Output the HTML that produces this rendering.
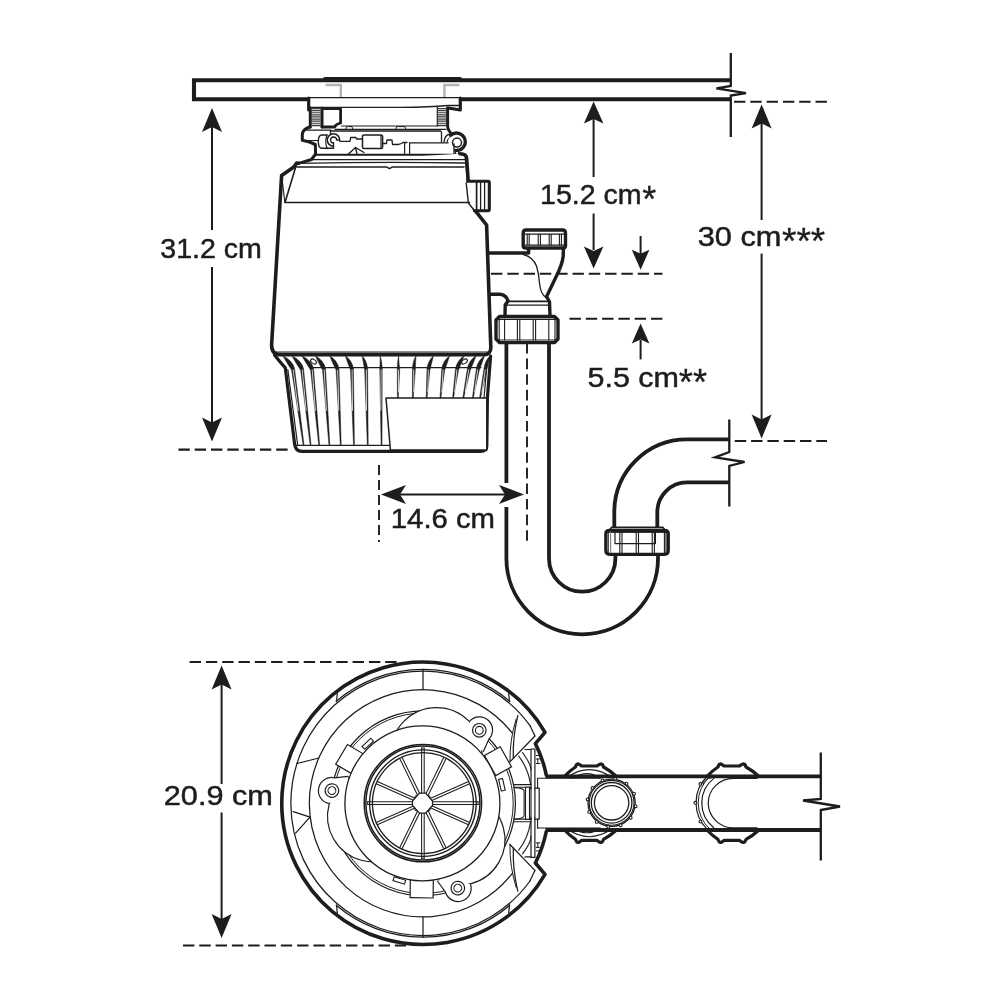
<!DOCTYPE html>
<html><head><meta charset="utf-8"><title>Disposer dimensions</title>
<style>
html,body{margin:0;padding:0;background:#fff;overflow:hidden;}
svg{display:block}
text{font-family:"Liberation Sans",sans-serif;fill:#1d1d1b}
</style></head>
<body>
<svg width="1000" height="1000" viewBox="0 0 1000 1000">
<defs><filter id="nf" x="-5%" y="-20%" width="110%" height="140%" color-interpolation-filters="sRGB"><feColorMatrix type="saturate" values="0"/></filter></defs>
<rect width="1000" height="1000" fill="#fff"/>
<!-- bottom view -->
<path d="M545.5,776.4 L820.8,776.4 M545.5,830 L820.8,830" fill="none" stroke="#1d1d1b" stroke-width="3.80" stroke-linejoin="round" stroke-linecap="butt"/>
<path d="M537.6,778.2 L600,778.2 M537.6,828 L600,828" fill="none" stroke="#1d1d1b" stroke-width="1.10" stroke-linejoin="round" stroke-linecap="round" />
<path d="M820.8,752.4 L820.8,799 L803,800.5 L840,806.5 L820.8,810 L820.8,860.5" fill="none" stroke="#1d1d1b" stroke-width="2.30" stroke-linejoin="miter" stroke-linecap="butt"/>
<path d="M564.5,776.4 Q570.0,770.5 575.5,767.0 Q576.5,763.6 578.5,764.0 Q580.0,764.6 581.5,766.0 L597.0,766.0 Q598.5,764.6 600.5,764.0 Q602.5,763.6 603.5,767.0 Q610.0,770.5 616.5,776.4" fill="none" stroke="#1d1d1b" stroke-width="3.20" stroke-linejoin="round" stroke-linecap="round" />
<path d="M564.5,830.0 Q570.0,835.9 575.5,839.4 Q576.5,842.8 578.5,842.4 Q580.0,841.8 581.5,840.4 L597.0,840.4 Q598.5,841.8 600.5,842.4 Q602.5,842.8 603.5,839.4 Q610.0,835.9 616.5,830.0" fill="none" stroke="#1d1d1b" stroke-width="3.20" stroke-linejoin="round" stroke-linecap="round" />
<path d="M568,776.8 Q589,762.5 611,776.8" fill="none" stroke="#1d1d1b" stroke-width="1.20" stroke-linejoin="round" stroke-linecap="round" />
<path d="M572,778.2 Q588,769.0 600,778.2" fill="none" stroke="#1d1d1b" stroke-width="1.10" stroke-linejoin="round" stroke-linecap="round" />
<path d="M568,829.6 Q589,843.9 611,829.6" fill="none" stroke="#1d1d1b" stroke-width="1.20" stroke-linejoin="round" stroke-linecap="round" />
<path d="M572,828.2 Q588,837.4 600,828.2" fill="none" stroke="#1d1d1b" stroke-width="1.10" stroke-linejoin="round" stroke-linecap="round" />
<circle cx="611.6" cy="802.8" r="23.6" fill="#fff" stroke="#1d1d1b" stroke-width="1.30"/>
<circle cx="635.6" cy="806.2" r="1.4" fill="#fff" stroke="#1d1d1b" stroke-width="1.1"/>
<circle cx="630.7" cy="817.7" r="1.4" fill="#fff" stroke="#1d1d1b" stroke-width="1.1"/>
<circle cx="620.7" cy="825.2" r="1.4" fill="#fff" stroke="#1d1d1b" stroke-width="1.1"/>
<circle cx="608.2" cy="826.8" r="1.4" fill="#fff" stroke="#1d1d1b" stroke-width="1.1"/>
<circle cx="596.7" cy="821.9" r="1.4" fill="#fff" stroke="#1d1d1b" stroke-width="1.1"/>
<circle cx="589.2" cy="811.9" r="1.4" fill="#fff" stroke="#1d1d1b" stroke-width="1.1"/>
<circle cx="587.6" cy="799.4" r="1.4" fill="#fff" stroke="#1d1d1b" stroke-width="1.1"/>
<circle cx="592.5" cy="787.9" r="1.4" fill="#fff" stroke="#1d1d1b" stroke-width="1.1"/>
<circle cx="602.5" cy="780.4" r="1.4" fill="#fff" stroke="#1d1d1b" stroke-width="1.1"/>
<circle cx="615.0" cy="778.8" r="1.4" fill="#fff" stroke="#1d1d1b" stroke-width="1.1"/>
<circle cx="626.5" cy="783.7" r="1.4" fill="#fff" stroke="#1d1d1b" stroke-width="1.1"/>
<circle cx="634.0" cy="793.7" r="1.4" fill="#fff" stroke="#1d1d1b" stroke-width="1.1"/>
<circle cx="611.6" cy="802.8" r="22.4" fill="#fff" stroke="#1d1d1b" stroke-width="1.10"/>
<circle cx="611.6" cy="802.8" r="20.3" fill="none" stroke="#1d1d1b" stroke-width="1.30"/>
<circle cx="611.6" cy="802.8" r="17.2" fill="none" stroke="#1d1d1b" stroke-width="1.30"/>
<path d="M707.0,776.4 Q712.5,770.5 718.0,767.0 Q719.0,763.6 721.0,764.0 Q722.5,764.6 724.0,766.0 L739.5,766.0 Q741.0,764.6 743.0,764.0 Q745.0,763.6 746.0,767.0 Q752.5,770.5 759.0,776.4" fill="none" stroke="#1d1d1b" stroke-width="3.20" stroke-linejoin="round" stroke-linecap="round" />
<path d="M707.0,830.0 Q712.5,835.9 718.0,839.4 Q719.0,842.8 721.0,842.4 Q722.5,841.8 724.0,840.4 L739.5,840.4 Q741.0,841.8 743.0,842.4 Q745.0,842.8 746.0,839.4 Q752.5,835.9 759.0,830.0" fill="none" stroke="#1d1d1b" stroke-width="3.20" stroke-linejoin="round" stroke-linecap="round" />
<path d="M707.3,829.4 A37.0,37.0 0 0 1 707.3,776.2" fill="none" stroke="#1d1d1b" stroke-width="1.20" stroke-linejoin="round" stroke-linecap="round" />
<path d="M709.6,828.8 A35.0,35.0 0 0 1 709.6,776.8" fill="none" stroke="#1d1d1b" stroke-width="1.00" stroke-linejoin="round" stroke-linecap="round" />
<circle cx="700.4" cy="821.6" r="1.4" fill="#fff" stroke="#1d1d1b" stroke-width="1.1"/>
<circle cx="695.4" cy="802.8" r="1.4" fill="#fff" stroke="#1d1d1b" stroke-width="1.1"/>
<circle cx="700.4" cy="784.0" r="1.4" fill="#fff" stroke="#1d1d1b" stroke-width="1.1"/>
<path d="M713.8,778.4 A31.4,31.4 0 0 0 713.8,827.8" fill="none" stroke="#1d1d1b" stroke-width="1.20" stroke-linejoin="round" stroke-linecap="round" />
<path d="M757,778.4 L733.4,778.4 A25.2,24.7 0 0 0 733.4,827.8 L757,827.8" fill="none" stroke="#1d1d1b" stroke-width="1.20" stroke-linejoin="round" stroke-linecap="round" />
<path d="M711,778 Q705,778 703,784" fill="none" stroke="#1d1d1b" stroke-width="1.00" stroke-linejoin="round" stroke-linecap="round" />
<path d="M546.3,775.1 A126.8,126.8 0 0 0 535.4,743.6 L545.0,732.3 A141.2,141.2 0 1 0 545.0,874.3 L535.4,863.0 A126.8,126.8 0 0 0 546.3,831.5" fill="none" stroke="#1d1d1b" stroke-width="3.60" stroke-linejoin="round" stroke-linecap="round" />
<path d="M530.0,881.0 A132.2,132.2 0 1 1 530.0,725.6" fill="none" stroke="#1d1d1b" stroke-width="1.25" stroke-linejoin="round" stroke-linecap="round" />
<path d="M512.5,873.2 A113.6,113.6 0 1 1 512.5,733.4" fill="none" stroke="#1d1d1b" stroke-width="1.25" stroke-linejoin="round" stroke-linecap="round" />
<path d="M336.2,701.3 A134.0,134.0 0 0 1 509.8,701.3" fill="none" stroke="#1d1d1b" stroke-width="1.25" stroke-linejoin="round" stroke-linecap="round" />
<path d="M337.3,693.7 L336.5,701.7" fill="none" stroke="#1d1d1b" stroke-width="1.25" stroke-linejoin="round" stroke-linecap="round" />
<path d="M508.7,693.7 L509.5,701.7" fill="none" stroke="#1d1d1b" stroke-width="1.25" stroke-linejoin="round" stroke-linecap="round" />
<path d="M423.0,669.3 L423.0,689.7" fill="none" stroke="#1d1d1b" stroke-width="1.25" stroke-linejoin="round" stroke-linecap="round" />
<path d="M509.8,905.3 A134.0,134.0 0 0 1 336.2,905.3" fill="none" stroke="#1d1d1b" stroke-width="1.25" stroke-linejoin="round" stroke-linecap="round" />
<path d="M508.7,912.9 L509.5,904.9" fill="none" stroke="#1d1d1b" stroke-width="1.25" stroke-linejoin="round" stroke-linecap="round" />
<path d="M337.3,912.9 L336.5,904.9" fill="none" stroke="#1d1d1b" stroke-width="1.25" stroke-linejoin="round" stroke-linecap="round" />
<path d="M423.0,937.3 L423.0,916.9" fill="none" stroke="#1d1d1b" stroke-width="1.25" stroke-linejoin="round" stroke-linecap="round" />
<path d="M296.9,763.5 L318.8,758.0" fill="none" stroke="#1d1d1b" stroke-width="1.25" stroke-linejoin="round" stroke-linecap="round" />
<path d="M293.2,811.6 L310,817.2 L295.6,833.2" fill="none" stroke="#1d1d1b" stroke-width="1.25" stroke-linejoin="round" stroke-linecap="round" />
<path d="M534.9,736.0 L509.7,762.1" fill="none" stroke="#1d1d1b" stroke-width="1.25" stroke-linejoin="round" stroke-linecap="round" />
<path d="M530.0,725.6 L534.9,736.0" fill="none" stroke="#1d1d1b" stroke-width="1.25" stroke-linejoin="round" stroke-linecap="round" />
<path d="M517.8,715.3 Q512.5,738.0 513.3,758.5" fill="none" stroke="#1d1d1b" stroke-width="1.25" stroke-linejoin="round" stroke-linecap="round" />
<path d="M516.2,719.0 Q509.5,740.0 510,761.5" fill="none" stroke="#1d1d1b" stroke-width="1.00" stroke-linejoin="round" stroke-linecap="round" />
<path d="M518.7,756.2 Q528,768.0 530.6,784.5" fill="none" stroke="#1d1d1b" stroke-width="1.10" stroke-linejoin="round" stroke-linecap="round" />
<path d="M522.5,752.5 Q531,764.0 531,770.0" fill="none" stroke="#1d1d1b" stroke-width="1.10" stroke-linejoin="round" stroke-linecap="round" />
<path d="M531,749.0 L531,789.0 M534.9,749.0 L534.9,789.0 M531,749.0 L534.9,749.0" fill="none" stroke="#1d1d1b" stroke-width="1.20" stroke-linejoin="round" stroke-linecap="round" />
<path d="M525,749.5 L531,749.5" fill="none" stroke="#1d1d1b" stroke-width="1.10" stroke-linejoin="round" stroke-linecap="round" />
<path d="M536.4,755.5 L539.4,755.5 M536.4,759.0 L539.4,759.0 M536.4,763.5 L540,763.5 M537.8,759.0 L537.8,763.5" fill="none" stroke="#1d1d1b" stroke-width="1.00" stroke-linejoin="round" stroke-linecap="round" />
<path d="M513.8,784.6 L531,784.6 M513.8,787.3 L531,787.3" fill="none" stroke="#1d1d1b" stroke-width="1.10" stroke-linejoin="round" stroke-linecap="round" />
<path d="M534.9,870.4 L509.7,844.3" fill="none" stroke="#1d1d1b" stroke-width="1.25" stroke-linejoin="round" stroke-linecap="round" />
<path d="M530.0,880.8 L534.9,870.4" fill="none" stroke="#1d1d1b" stroke-width="1.25" stroke-linejoin="round" stroke-linecap="round" />
<path d="M517.8,891.1 Q512.5,868.4 513.3,847.9" fill="none" stroke="#1d1d1b" stroke-width="1.25" stroke-linejoin="round" stroke-linecap="round" />
<path d="M516.2,887.4 Q509.5,866.4 510,844.9" fill="none" stroke="#1d1d1b" stroke-width="1.00" stroke-linejoin="round" stroke-linecap="round" />
<path d="M518.7,850.2 Q528,838.4 530.6,821.9" fill="none" stroke="#1d1d1b" stroke-width="1.10" stroke-linejoin="round" stroke-linecap="round" />
<path d="M522.5,853.9 Q531,842.4 531,836.4" fill="none" stroke="#1d1d1b" stroke-width="1.10" stroke-linejoin="round" stroke-linecap="round" />
<path d="M531,857.4 L531,817.4 M534.9,857.4 L534.9,817.4 M531,857.4 L534.9,857.4" fill="none" stroke="#1d1d1b" stroke-width="1.20" stroke-linejoin="round" stroke-linecap="round" />
<path d="M525,856.9 L531,856.9" fill="none" stroke="#1d1d1b" stroke-width="1.10" stroke-linejoin="round" stroke-linecap="round" />
<path d="M536.4,850.9 L539.4,850.9 M536.4,847.4 L539.4,847.4 M536.4,842.9 L540,842.9 M537.8,847.4 L537.8,842.9" fill="none" stroke="#1d1d1b" stroke-width="1.00" stroke-linejoin="round" stroke-linecap="round" />
<path d="M513.8,821.8 L531,821.8 M513.8,819.1 L531,819.1" fill="none" stroke="#1d1d1b" stroke-width="1.10" stroke-linejoin="round" stroke-linecap="round" />
<path d="M514.7,787.6 Q524,788 524.1,791 L524.1,815.5 Q524,818.5 514.7,819.2" fill="none" stroke="#1d1d1b" stroke-width="1.10" stroke-linejoin="round" stroke-linecap="round" />
<path d="M525.5,787.3 L529.5,787.3 L529.5,819.4 L525.5,819.4 Z" fill="#fff" stroke="#1d1d1b" stroke-width="1.10" stroke-linejoin="round" stroke-linecap="round" />
<path d="M531,787.3 L531,819.4" fill="none" stroke="#1d1d1b" stroke-width="1.10" stroke-linejoin="round" stroke-linecap="round" />
<path d="M534.9,788.2 L539.2,788.2 L539.2,819.2 L534.9,819.2 Z" fill="#fff" stroke="#1d1d1b" stroke-width="1.20" stroke-linejoin="round" stroke-linecap="round" />
<path d="M537.6,778.2 L537.6,788.2 M537.6,819.2 L537.6,828" fill="none" stroke="#1d1d1b" stroke-width="1.10" stroke-linejoin="round" stroke-linecap="round" />
<circle cx="423.0" cy="803.3" r="92.4" fill="none" stroke="#1d1d1b" stroke-width="1.25"/>
<circle cx="423.0" cy="803.3" r="90.2" fill="none" stroke="#1d1d1b" stroke-width="1.00"/>
<g transform="rotate(0 423 803)"><g transform="translate(498.0 761.2) rotate(-29.3)"><rect x="-9" y="-11.5" width="18" height="23" fill="#fff" stroke="#1d1d1b" stroke-width="1.2"/></g></g>
<g transform="rotate(120 423 803)"><g transform="translate(498.0 761.2) rotate(-29.3)"><rect x="-9" y="-11.5" width="18" height="23" fill="#fff" stroke="#1d1d1b" stroke-width="1.2"/></g></g>
<g transform="rotate(240 423 803)"><g transform="translate(498.0 761.2) rotate(-29.3)"><rect x="-9" y="-11.5" width="18" height="23" fill="#fff" stroke="#1d1d1b" stroke-width="1.2"/></g></g>
<g transform="rotate(0 423 803)"><circle cx="436.5" cy="753.1" r="45.5" fill="#fff" stroke="#1d1d1b" stroke-width="1.2"/></g>
<g transform="rotate(120 423 803)"><circle cx="436.5" cy="753.1" r="45.5" fill="#fff" stroke="#1d1d1b" stroke-width="1.2"/></g>
<g transform="rotate(240 423 803)"><circle cx="436.5" cy="753.1" r="45.5" fill="#fff" stroke="#1d1d1b" stroke-width="1.2"/></g>
<g transform="rotate(0 423 803)"><g transform="translate(479.3 730.3)"><path d="M-9.4,-9.4 A13,13 0 0 1 9.6,8.8 L4.6,21 L-9,14 Z" fill="#fff" stroke="none"/><path d="M-9.4,-9.4 A13,13 0 0 1 9.6,8.8 L4.2,21" fill="none" stroke="#1d1d1b" stroke-width="1.2" stroke-linecap="round"/><circle r="6.8" fill="none" stroke="#1d1d1b" stroke-width="1.2"/><circle r="3.9" fill="none" stroke="#1d1d1b" stroke-width="1.1"/></g></g>
<g transform="rotate(120 423 803)"><g transform="translate(479.3 730.3)"><path d="M-9.4,-9.4 A13,13 0 0 1 9.6,8.8 L4.6,21 L-9,14 Z" fill="#fff" stroke="none"/><path d="M-9.4,-9.4 A13,13 0 0 1 9.6,8.8 L4.2,21" fill="none" stroke="#1d1d1b" stroke-width="1.2" stroke-linecap="round"/><circle r="6.8" fill="none" stroke="#1d1d1b" stroke-width="1.2"/><circle r="3.9" fill="none" stroke="#1d1d1b" stroke-width="1.1"/></g></g>
<g transform="rotate(240 423 803)"><g transform="translate(479.3 730.3)"><path d="M-9.4,-9.4 A13,13 0 0 1 9.6,8.8 L4.6,21 L-9,14 Z" fill="#fff" stroke="none"/><path d="M-9.4,-9.4 A13,13 0 0 1 9.6,8.8 L4.2,21" fill="none" stroke="#1d1d1b" stroke-width="1.2" stroke-linecap="round"/><circle r="6.8" fill="none" stroke="#1d1d1b" stroke-width="1.2"/><circle r="3.9" fill="none" stroke="#1d1d1b" stroke-width="1.1"/></g></g>
<circle cx="422.4" cy="803.4" r="77.5" fill="#fff" stroke="#1d1d1b" stroke-width="1.30"/>
<g transform="rotate(0 423 803)"><g transform="translate(501.9 784.8) rotate(-13.2)"><rect x="-2" y="-6" width="4" height="12" fill="#fff" stroke="#1d1d1b" stroke-width="1.1"/></g></g>
<g transform="rotate(120 423 803)"><g transform="translate(501.9 784.8) rotate(-13.2)"><rect x="-2" y="-6" width="4" height="12" fill="#fff" stroke="#1d1d1b" stroke-width="1.1"/></g></g>
<g transform="rotate(240 423 803)"><g transform="translate(501.9 784.8) rotate(-13.2)"><rect x="-2" y="-6" width="4" height="12" fill="#fff" stroke="#1d1d1b" stroke-width="1.1"/></g></g>
<circle cx="422.9" cy="803.1" r="58.7" fill="none" stroke="#1d1d1b" stroke-width="1.50"/>
<circle cx="422.9" cy="803.1" r="57.0" fill="none" stroke="#1d1d1b" stroke-width="1.50"/>
<circle cx="422.9" cy="803.1" r="53.3" fill="none" stroke="#1d1d1b" stroke-width="1.35"/>
<circle cx="422.9" cy="803.1" r="50.5" fill="none" stroke="#1d1d1b" stroke-width="1.35"/>
<path d="M424.2,795.1 L424.2,747.9" fill="none" stroke="#1d1d1b" stroke-width="1.05" stroke-linejoin="round" stroke-linecap="round" />
<path d="M421.6,795.1 L421.6,747.9" fill="none" stroke="#1d1d1b" stroke-width="1.05" stroke-linejoin="round" stroke-linecap="round" />
<path d="M424.2,747.9 L421.6,747.9" fill="none" stroke="#1d1d1b" stroke-width="1.05" stroke-linejoin="round" stroke-linecap="round" />
<path d="M427.6,796.5 L446.2,758.3" fill="none" stroke="#1d1d1b" stroke-width="1.05" stroke-linejoin="round" stroke-linecap="round" />
<path d="M425.2,795.3 L443.9,757.1" fill="none" stroke="#1d1d1b" stroke-width="1.05" stroke-linejoin="round" stroke-linecap="round" />
<path d="M430.7,801.0 L469.6,783.7" fill="none" stroke="#1d1d1b" stroke-width="1.05" stroke-linejoin="round" stroke-linecap="round" />
<path d="M429.7,798.7 L468.5,781.4" fill="none" stroke="#1d1d1b" stroke-width="1.05" stroke-linejoin="round" stroke-linecap="round" />
<path d="M430.9,804.4 L478.1,804.4" fill="none" stroke="#1d1d1b" stroke-width="1.05" stroke-linejoin="round" stroke-linecap="round" />
<path d="M430.9,801.8 L478.1,801.8" fill="none" stroke="#1d1d1b" stroke-width="1.05" stroke-linejoin="round" stroke-linecap="round" />
<path d="M478.1,804.4 L478.1,801.8" fill="none" stroke="#1d1d1b" stroke-width="1.05" stroke-linejoin="round" stroke-linecap="round" />
<path d="M429.7,807.5 L468.5,824.8" fill="none" stroke="#1d1d1b" stroke-width="1.05" stroke-linejoin="round" stroke-linecap="round" />
<path d="M430.7,805.2 L469.6,822.5" fill="none" stroke="#1d1d1b" stroke-width="1.05" stroke-linejoin="round" stroke-linecap="round" />
<path d="M425.2,810.9 L443.9,849.1" fill="none" stroke="#1d1d1b" stroke-width="1.05" stroke-linejoin="round" stroke-linecap="round" />
<path d="M427.6,809.7 L446.2,847.9" fill="none" stroke="#1d1d1b" stroke-width="1.05" stroke-linejoin="round" stroke-linecap="round" />
<path d="M421.6,811.1 L421.6,858.3" fill="none" stroke="#1d1d1b" stroke-width="1.05" stroke-linejoin="round" stroke-linecap="round" />
<path d="M424.2,811.1 L424.2,858.3" fill="none" stroke="#1d1d1b" stroke-width="1.05" stroke-linejoin="round" stroke-linecap="round" />
<path d="M421.6,858.3 L424.2,858.3" fill="none" stroke="#1d1d1b" stroke-width="1.05" stroke-linejoin="round" stroke-linecap="round" />
<path d="M418.2,809.7 L399.6,847.9" fill="none" stroke="#1d1d1b" stroke-width="1.05" stroke-linejoin="round" stroke-linecap="round" />
<path d="M420.6,810.9 L401.9,849.1" fill="none" stroke="#1d1d1b" stroke-width="1.05" stroke-linejoin="round" stroke-linecap="round" />
<path d="M415.1,805.2 L376.2,822.5" fill="none" stroke="#1d1d1b" stroke-width="1.05" stroke-linejoin="round" stroke-linecap="round" />
<path d="M416.1,807.5 L377.3,824.8" fill="none" stroke="#1d1d1b" stroke-width="1.05" stroke-linejoin="round" stroke-linecap="round" />
<path d="M414.9,801.8 L367.7,801.8" fill="none" stroke="#1d1d1b" stroke-width="1.05" stroke-linejoin="round" stroke-linecap="round" />
<path d="M414.9,804.4 L367.7,804.4" fill="none" stroke="#1d1d1b" stroke-width="1.05" stroke-linejoin="round" stroke-linecap="round" />
<path d="M367.7,801.8 L367.7,804.4" fill="none" stroke="#1d1d1b" stroke-width="1.05" stroke-linejoin="round" stroke-linecap="round" />
<path d="M416.1,798.7 L377.3,781.4" fill="none" stroke="#1d1d1b" stroke-width="1.05" stroke-linejoin="round" stroke-linecap="round" />
<path d="M415.1,801.0 L376.2,783.7" fill="none" stroke="#1d1d1b" stroke-width="1.05" stroke-linejoin="round" stroke-linecap="round" />
<path d="M420.6,795.3 L401.9,757.1" fill="none" stroke="#1d1d1b" stroke-width="1.05" stroke-linejoin="round" stroke-linecap="round" />
<path d="M418.2,796.5 L399.6,758.3" fill="none" stroke="#1d1d1b" stroke-width="1.05" stroke-linejoin="round" stroke-linecap="round" />
<polygon points="419.5,793.2 425.5,793.2 432.5,801.0 432.5,805.5 425.5,813.2 419.5,813.2 412.5,805.5 412.5,801.0" fill="#fff" stroke="#1d1d1b" stroke-width="1.2" stroke-linejoin="round"/>
<path d="M427.7,810.9 L429.9,810.5 L430.3,807.9" fill="none" stroke="#1d1d1b" stroke-width="0.90" stroke-linejoin="round" stroke-linecap="round" />
<path d="M427.7,795.6 L429.9,796.0 L430.3,798.6" fill="none" stroke="#1d1d1b" stroke-width="0.90" stroke-linejoin="round" stroke-linecap="round" />
<path d="M417.3,810.9 L415.1,810.5 L414.7,807.9" fill="none" stroke="#1d1d1b" stroke-width="0.90" stroke-linejoin="round" stroke-linecap="round" />
<path d="M417.3,795.6 L415.1,796.0 L414.7,798.6" fill="none" stroke="#1d1d1b" stroke-width="0.90" stroke-linejoin="round" stroke-linecap="round" />
<!-- countertop -->
<path d="M731,80.3 L194,80.3 L194,99.2 L308,99.2 M461,99.2 L731,99.2" fill="none" stroke="#1d1d1b" stroke-width="4.10" stroke-linecap="butt" stroke-linejoin="miter"/>
<path d="M325,79 L460,79" fill="none" stroke="#1d1d1b" stroke-width="4.20" stroke-linejoin="round" stroke-linecap="round" />
<path d="M325.5,85 L340.8,85 L340.8,97 M459.5,85 L444.4,85 L444.4,97" fill="none" stroke="#b4b4b4" stroke-width="2.4"/>
<path d="M730.8,53 L730.8,86 L716.4,88.4 L746,93.2 L730.8,95.6 L730.8,137" fill="none" stroke="#1d1d1b" stroke-width="2.30" stroke-linejoin="miter" stroke-linecap="butt"/>
<!-- mount -->
<path d="M308.5,99 L308.5,109 M308.5,97.6 L460.5,97.6" fill="none" stroke="#1d1d1b" stroke-width="1.20" stroke-linejoin="round" stroke-linecap="round" />
<path d="M308.7,98 L308.7,110" fill="none" stroke="#1d1d1b" stroke-width="3.20" stroke-linejoin="round" stroke-linecap="round" />
<path d="M460.3,98 L460.3,110 L448,108" fill="none" stroke="#1d1d1b" stroke-width="3.20" stroke-linejoin="round" stroke-linecap="round" />
<path d="M309,107.3 L400,107.3 Q430,107.3 448,105.5 L459,105.5" fill="none" stroke="#1d1d1b" stroke-width="1.30" stroke-linejoin="round" stroke-linecap="round" />
<path d="M312,108.5 L320.5,108.5 M438,108.5 L446,108.5 M312,110.4 L320.5,110.4 M438,110.4 L446,110.4 M312,112.3 L320.5,112.3 M438,112.3 L446,112.3 M312,114.2 L320.5,114.2 M438,114.2 L446,114.2 M312,116.1 L320.5,116.1 M438,116.1 L446,116.1 M312,118.0 L320.5,118.0 M438,118.0 L446,118.0 M312,119.9 L320.5,119.9 M438,119.9 L446,119.9 M312,121.8 L320.5,121.8 M438,121.8 L446,121.8 M312,123.7 L320.5,123.7 M438,123.7 L446,123.7 M312,125.6 L320.5,125.6 M438,125.6 L446,125.6" stroke="#3a3a3a" stroke-width="1.1" fill="none"/>
<path d="M310.3,108 L310.3,127" fill="none" stroke="#1d1d1b" stroke-width="3.00" stroke-linejoin="round" stroke-linecap="round" />
<path d="M322,108 L322,127" fill="none" stroke="#1d1d1b" stroke-width="3.00" stroke-linejoin="round" stroke-linecap="round" />
<path d="M322,108.7 L340.6,108.7 L340.6,123 Q336,124 334.5,127 L322,127" fill="none" stroke="#1d1d1b" stroke-width="2.80" stroke-linejoin="round" stroke-linecap="round" />
<path d="M447.6,108 L447.6,126 Q448,131.5 452.5,134.2" fill="none" stroke="#1d1d1b" stroke-width="3.00" stroke-linejoin="round" stroke-linecap="round" />
<path d="M437.3,107 L437.3,126" fill="none" stroke="#1d1d1b" stroke-width="1.20" stroke-linejoin="round" stroke-linecap="round" />
<path d="M341.5,126 L437.5,126" fill="none" stroke="#1d1d1b" stroke-width="1.20" stroke-linejoin="round" stroke-linecap="round" />
<path d="M335,129.3 L446,129.3" fill="none" stroke="#1d1d1b" stroke-width="1.20" stroke-linejoin="round" stroke-linecap="round" />
<path d="M345.6,129.3 L346.6,126.6 L352,126.6 L352.8,129.3 M395.6,129.3 L396.6,126.6 L405,126.6 L405.8,129.3" fill="none" stroke="#1d1d1b" stroke-width="1.00" stroke-linejoin="round" stroke-linecap="round" />
<path d="M310,127 Q303,129 302.3,134 L302.3,140.3 L309.5,142 L315.3,144.5 L315.6,154 L311.5,159.5 L299,163.5" fill="none" stroke="#1d1d1b" stroke-width="3.00" stroke-linejoin="round" stroke-linecap="round" />
<path d="M305,130.2 L331,130.2" fill="none" stroke="#1d1d1b" stroke-width="1.20" stroke-linejoin="round" stroke-linecap="round" />
<path d="M303,140.5 L318,140.5" fill="none" stroke="#1d1d1b" stroke-width="1.20" stroke-linejoin="round" stroke-linecap="round" />
<path d="M330.5,131 L440.5,131 Q441.5,131 441.5,133 L441.5,142" fill="none" stroke="#1d1d1b" stroke-width="1.30" stroke-linejoin="round" stroke-linecap="round" />
<path d="M330.5,131 L330.5,134" fill="none" stroke="#1d1d1b" stroke-width="1.30" stroke-linejoin="round" stroke-linecap="round" />
<path d="M316,154.7 L460,154.7" fill="none" stroke="#1d1d1b" stroke-width="2.10" stroke-linejoin="round" stroke-linecap="round" />
<path d="M327,135 L322,135 Q318.3,135 318.3,141.5 Q318.3,148 322,148.3 L333,148.3" fill="none" stroke="#1d1d1b" stroke-width="1.40" stroke-linejoin="round" stroke-linecap="round" />
<path d="M327,135 Q324.5,141.5 327,148" fill="none" stroke="#1d1d1b" stroke-width="1.20" stroke-linejoin="round" stroke-linecap="round" />
<path d="M333.5,146.2 A6.2,6.2 0 1 1 339.7,140" fill="none" stroke="#1d1d1b" stroke-width="1.50" stroke-linejoin="round" stroke-linecap="round" />
<path d="M333.6,143 A3,3 0 1 1 336.6,140 L339.7,140" fill="none" stroke="#1d1d1b" stroke-width="1.30" stroke-linejoin="round" stroke-linecap="round" />
<path d="M333.5,143 L333.5,148.3" fill="none" stroke="#1d1d1b" stroke-width="1.30" stroke-linejoin="round" stroke-linecap="round" />
<path d="M339.7,141.3 L350,141.3 L350.6,137.5 L356,137.5 L356.5,139 L362,139" fill="none" stroke="#1d1d1b" stroke-width="1.30" stroke-linejoin="round" stroke-linecap="round" />
<path d="M362.5,136 Q362.5,135 364,135 L381,135 Q382.6,135 382.6,137 L382.6,147 Q382.6,148.6 381,148.6 L364,148.6 Q362.5,148.6 362.5,147 Z" fill="none" stroke="#1d1d1b" stroke-width="1.50" stroke-linejoin="round" stroke-linecap="round" />
<path d="M381,135.5 L381,148" fill="none" stroke="#1d1d1b" stroke-width="1.20" stroke-linejoin="round" stroke-linecap="round" />
<path d="M382.6,143.5 L386.5,143.5 L387,140 L392,140 L392.5,144.5 L398,144.5 Q401,144 403,142.5 L407,142.5" fill="none" stroke="#1d1d1b" stroke-width="1.30" stroke-linejoin="round" stroke-linecap="round" />
<path d="M348.5,154 L355.5,147.5 L364,152.5 M355.5,147.5 L357,154" fill="none" stroke="#1d1d1b" stroke-width="1.30" stroke-linejoin="round" stroke-linecap="round" />
<path d="M404.6,142.5 L404.6,153.5 M409.6,142.8 L409.6,153.5" fill="none" stroke="#1d1d1b" stroke-width="1.20" stroke-linejoin="round" stroke-linecap="round" />
<path d="M409.6,142.8 L452.6,142.8 Q454,142.8 454,144.4" fill="none" stroke="#1d1d1b" stroke-width="1.30" stroke-linejoin="round" stroke-linecap="round" />
<path d="M444,142 Q444.5,135 450,134 " fill="none" stroke="#1d1d1b" stroke-width="1.30" stroke-linejoin="round" stroke-linecap="round" />
<path d="M447,142 Q448,137.5 452,137" fill="none" stroke="#1d1d1b" stroke-width="1.20" stroke-linejoin="round" stroke-linecap="round" />
<circle cx="457" cy="141.8" r="8.6" fill="#fff" stroke="none"/>
<path d="M450.6,135.4 A8.7,8.7 0 1 1 455.6,150.4" fill="none" stroke="#1d1d1b" stroke-width="3.30" stroke-linejoin="round" stroke-linecap="round" />
<circle cx="457" cy="142.6" r="4.5" fill="none" stroke="#1d1d1b" stroke-width="1.5"/>
<path d="M454,144 L454,153.5" fill="none" stroke="#1d1d1b" stroke-width="1.30" stroke-linejoin="round" stroke-linecap="round" />
<path d="M455.5,151.5 L455.5,153.5 M458.5,151.5 L458.5,153.5" fill="none" stroke="#1d1d1b" stroke-width="1.20" stroke-linejoin="round" stroke-linecap="round" />
<!-- body -->
<path d="M299,163.2 L296.6,163 L294.2,166.8 L281.6,175.6 L271.6,345 Q271.6,354.6 280,354.6 L484,354.6 Q491,354.6 490.8,347 L486.6,225 L473,207.5 L468.4,181 L466.6,158 Q466.3,154 460,153.8 Z" fill="#fff" stroke="none"/>
<path d="M299,163.2 L296.6,163 L294.2,166.8 L281.6,175.6 L271.6,345 Q271.6,354.6 280,354.6 L484,354.6 Q491,354.6 490.8,347 L486.6,225 L474.6,209.8" fill="none" stroke="#1d1d1b" stroke-width="3.60" stroke-linejoin="round" stroke-linecap="round" />
<path d="M468.2,181 L466.6,158 Q466.3,154 460,153.8" fill="none" stroke="#1d1d1b" stroke-width="3.60" stroke-linejoin="round" stroke-linecap="round" />
<path d="M272.5,352 L490,352" fill="none" stroke="#1d1d1b" stroke-width="1.10" stroke-linejoin="round" stroke-linecap="round" />
<path d="M312,159.6 L465,159.6" fill="none" stroke="#1d1d1b" stroke-width="1.20" stroke-linejoin="round" stroke-linecap="round" />
<path d="M298,163.4 Q382,161.6 466,163" fill="none" stroke="#1d1d1b" stroke-width="1.40" stroke-linejoin="round" stroke-linecap="round" />
<path d="M296.5,166.9 L386.5,166.9 L389.5,168.6 L392.5,166.9 L464,166.9" fill="none" stroke="#1d1d1b" stroke-width="1.50" stroke-linejoin="round" stroke-linecap="round" />
<path d="M295.4,168 L285,202.5 L469.5,202.5" fill="none" stroke="#1d1d1b" stroke-width="1.60" stroke-linejoin="round" stroke-linecap="round" />
<path d="M282,178 L284.8,202.4" fill="none" stroke="#1d1d1b" stroke-width="1.10" stroke-linejoin="round" stroke-linecap="round" />
<path d="M465.2,158 L467.4,181" fill="none" stroke="#1d1d1b" stroke-width="1.20" stroke-linejoin="round" stroke-linecap="round" />
<path d="M467.8,181.2 L488.2,181.2 Q489.3,181.2 489.3,182.4 L489.3,209.6 Q489.3,210.8 488.2,210.8 L474.4,210.8" fill="#fff" stroke="#1d1d1b" stroke-width="3.10" stroke-linejoin="round" stroke-linecap="round" />
<path d="M476.6,182 L476.6,210" fill="none" stroke="#1d1d1b" stroke-width="1.70" stroke-linejoin="round" stroke-linecap="round" /><path d="M480.6,182 L480.6,210 M484.6,182 L484.6,210" fill="none" stroke="#1d1d1b" stroke-width="1.30" stroke-linejoin="round" stroke-linecap="round" />
<path d="M466.2,183 L468.4,203 L474,210" fill="none" stroke="#1d1d1b" stroke-width="1.40" stroke-linejoin="round" stroke-linecap="round" />
<!-- fins -->
<path d="M274.5,355 Q280,362 285.3,367.8 L294.6,444 Q295.5,451.4 302,451.4 L480.5,451.4 Q486.8,451.4 486.8,446 L487.4,398 L490.6,356" fill="none" stroke="#1d1d1b" stroke-width="3.20" stroke-linejoin="round" stroke-linecap="round" />
<path d="M296,445.4 L390,445.4" fill="none" stroke="#1d1d1b" stroke-width="1.30" stroke-linejoin="round" stroke-linecap="round" />
<path d="M313,367.7 L481,367.7" fill="none" stroke="#1d1d1b" stroke-width="1.20" stroke-linejoin="round" stroke-linecap="round" />
<path d="M283.0,356 Q292.2,360 294.5,368.5 L304.0,444.8 L303.1,444.8 L291.6,370 Q286.2,362 283.0,356 Z" fill="#1d1d1b" stroke="#1d1d1b" stroke-width="0.5" stroke-linejoin="round"/>
<path d="M293.2,369.5 L298.3,410.8" stroke="#fff" stroke-width="0.8" fill="none"/>
<path d="M292.0,356 Q301.2,360 303.5,368.5 L311.0,444.8 L310.1,444.8 L300.6,370 Q295.2,362 292.0,356 Z" fill="#1d1d1b" stroke="#1d1d1b" stroke-width="0.5" stroke-linejoin="round"/>
<path d="M302.2,369.5 L306.2,410.8" stroke="#fff" stroke-width="0.8" fill="none"/>
<path d="M302.0,356 Q311.2,360 313.5,368.5 L319.6,444.8 L318.7,444.8 L310.6,370 Q305.2,362 302.0,356 Z" fill="#1d1d1b" stroke="#1d1d1b" stroke-width="0.5" stroke-linejoin="round"/>
<path d="M312.2,369.5 L315.4,410.8" stroke="#fff" stroke-width="0.8" fill="none"/>
<path d="M315.4,356 Q323.5,360 325.5,368.5 L329.8,444.8 L328.9,444.8 L322.6,370 Q318.1,362 315.4,356 Z" fill="#1d1d1b" stroke="#1d1d1b" stroke-width="0.5" stroke-linejoin="round"/>
<path d="M324.2,369.5 L326.4,410.8" stroke="#fff" stroke-width="0.8" fill="none"/>
<path d="M329.8,356 Q337.2,360 339.0,368.5 L341.2,444.8 L340.3,444.8 L336.1,370 Q332.1,362 329.8,356 Z" fill="#1d1d1b" stroke="#1d1d1b" stroke-width="0.5" stroke-linejoin="round"/>
<path d="M337.7,369.5 L338.8,410.8" stroke="#fff" stroke-width="0.8" fill="none"/>
<path d="M345.4,356 Q351.8,360 353.4,368.5 L354.4,444.8 L353.5,444.8 L350.5,370 Q347.3,362 345.4,356 Z" fill="#1d1d1b" stroke="#1d1d1b" stroke-width="0.5" stroke-linejoin="round"/>
<path d="M352.1,369.5 L352.5,410.8" stroke="#fff" stroke-width="0.8" fill="none"/>
<path d="M362.2,356 Q366.5,360 367.6,368.5 L368.2,444.8 L367.3,444.8 L364.7,370 Q363.2,362 362.2,356 Z" fill="#1d1d1b" stroke="#1d1d1b" stroke-width="0.5" stroke-linejoin="round"/>
<path d="M366.3,369.5 L366.5,410.8" stroke="#fff" stroke-width="0.8" fill="none"/>
<path d="M380.2,356 Q381.8,360 382.2,368.5 L382.0,444.8 L381.1,444.8 L379.8,370 Q380.2,362 380.2,356 Z" fill="#1d1d1b" stroke="#1d1d1b" stroke-width="0.5" stroke-linejoin="round"/>
<path d="M381.1,369.5 L380.9,410.8" stroke="#fff" stroke-width="0.8" fill="none"/>
<path d="M287.8,369.5 L297.6,444.5" fill="none" stroke="#1d1d1b" stroke-width="1.20" stroke-linejoin="round" stroke-linecap="round" />
<ellipse cx="313.5" cy="361.5" rx="3.2" ry="2" transform="rotate(35 313.5 361.5)" fill="#fff" stroke="#1d1d1b" stroke-width="1.1"/>
<path d="M398.6,356 Q397.6,360 397.3,368.5 L397.4,398.0 L398.3,398.0 L399.7,370 Q398.9,362 398.6,356 Z" fill="#1d1d1b" stroke="#1d1d1b" stroke-width="0.5" stroke-linejoin="round"/>
<path d="M398.4,369.5 L398.6,392.3" stroke="#fff" stroke-width="0.8" fill="none"/>
<path d="M416.0,356 Q413.1,360 412.4,368.5 L412.4,398.0 L413.3,398.0 L415.3,370 Q415.6,362 416.0,356 Z" fill="#1d1d1b" stroke="#1d1d1b" stroke-width="0.5" stroke-linejoin="round"/>
<path d="M413.7,369.5 L413.8,392.3" stroke="#fff" stroke-width="0.8" fill="none"/>
<path d="M433.4,356 Q428.3,360 427.0,368.5 L426.2,398.0 L427.1,398.0 L429.9,370 Q432.0,362 433.4,356 Z" fill="#1d1d1b" stroke="#1d1d1b" stroke-width="0.5" stroke-linejoin="round"/>
<path d="M428.3,369.5 L427.8,392.3" stroke="#fff" stroke-width="0.8" fill="none"/>
<path d="M449.6,356 Q443.4,360 441.8,368.5 L440.0,398.0 L440.9,398.0 L444.7,370 Q447.7,362 449.6,356 Z" fill="#1d1d1b" stroke="#1d1d1b" stroke-width="0.5" stroke-linejoin="round"/>
<path d="M443.1,369.5 L441.8,392.3" stroke="#fff" stroke-width="0.8" fill="none"/>
<path d="M464.0,356 Q457.3,360 455.6,368.5 L452.6,398.0 L453.5,398.0 L458.5,370 Q461.9,362 464.0,356 Z" fill="#1d1d1b" stroke="#1d1d1b" stroke-width="0.5" stroke-linejoin="round"/>
<path d="M456.9,369.5 L454.7,392.3" stroke="#fff" stroke-width="0.8" fill="none"/>
<path d="M476.0,356 Q469.1,360 467.4,368.5 L462.8,398.0 L463.7,398.0 L470.3,370 Q473.9,362 476.0,356 Z" fill="#1d1d1b" stroke="#1d1d1b" stroke-width="0.5" stroke-linejoin="round"/>
<path d="M468.7,369.5 L465.2,392.3" stroke="#fff" stroke-width="0.8" fill="none"/>
<path d="M484.4,356 Q478.0,360 476.4,368.5 L472.4,398.0 L473.3,398.0 L479.3,370 Q482.5,362 484.4,356 Z" fill="#1d1d1b" stroke="#1d1d1b" stroke-width="0.5" stroke-linejoin="round"/>
<path d="M477.7,369.5 L474.6,392.3" stroke="#fff" stroke-width="0.8" fill="none"/>
<path d="M490.0,356 Q485.2,360 484.0,368.5 L479.6,398.0 L480.5,398.0 L486.9,370 Q488.8,362 490.0,356 Z" fill="#1d1d1b" stroke="#1d1d1b" stroke-width="0.5" stroke-linejoin="round"/>
<path d="M485.3,369.5 L481.9,392.3" stroke="#fff" stroke-width="0.8" fill="none"/>
<path d="M486.4,371 L484,398" fill="none" stroke="#1d1d1b" stroke-width="1.20" stroke-linejoin="round" stroke-linecap="round" />
<ellipse cx="464.5" cy="361.5" rx="3.2" ry="2" transform="rotate(-35 464.5 361.5)" fill="#fff" stroke="#1d1d1b" stroke-width="1.1"/>
<path d="M386,398 L486.8,398 L486.8,450 L390.4,450 Z" fill="#fff" stroke="#1d1d1b" stroke-width="1.50" stroke-linejoin="round" stroke-linecap="round" />
<!-- elbow -->
<path d="M526,230 L562.5,230 Q565.5,230 565.5,233 L565.5,245.5 Q565.5,248 563,248 L525.5,248 Q523.2,248 523.2,245.5 L523.2,233 Q523.2,230 526,230 Z" fill="#fff" stroke="#1d1d1b" stroke-width="3.40" stroke-linejoin="round" stroke-linecap="round" />
<path d="M525.5,234.2 L563.5,234.2 M525.5,245.2 L563.5,245.2" fill="none" stroke="#1d1d1b" stroke-width="1.20" stroke-linejoin="round" stroke-linecap="round" />
<path d="M527.2,234.2 L527.2,245 M529.2,234.2 L529.2,245 M538.2,234.2 L538.2,245 M540.4,234.2 L540.4,245 M549.2,234.2 L549.2,245 M551.2,234.2 L551.2,245 M559.4,234.2 L559.4,245 M561.4,234.2 L561.4,245" fill="none" stroke="#1d1d1b" stroke-width="1.10" stroke-linejoin="round" stroke-linecap="round" />
<path d="M488.5,253 L524,253 L528.6,253 L528.6,249" fill="none" stroke="#1d1d1b" stroke-width="3.40" stroke-linejoin="round" stroke-linecap="round" />
<path d="M563.4,249 L563.2,256 Q562.5,264 556,277 L546.6,296.5 L549.5,302 L550,316" fill="none" stroke="#1d1d1b" stroke-width="3.40" stroke-linejoin="round" stroke-linecap="round" />
<path d="M523,254.3 Q533,257 536.5,266 Q539,274 539.5,283 Q540.5,294 546,297.5" fill="none" stroke="#1d1d1b" stroke-width="1.30" stroke-linejoin="round" stroke-linecap="round" />
<path d="M490,294.2 L500,294.2 Q506.5,295 508,301 L505.2,305 L505,316" fill="none" stroke="#1d1d1b" stroke-width="3.40" stroke-linejoin="round" stroke-linecap="round" />
<path d="M508,301.4 L548,301.4" fill="none" stroke="#1d1d1b" stroke-width="1.80" stroke-linejoin="round" stroke-linecap="round" />
<path d="M506,305.2 L549.6,305.2" fill="none" stroke="#1d1d1b" stroke-width="1.20" stroke-linejoin="round" stroke-linecap="round" />
<path d="M499.5,316.5 L554.5,316.5 L558,320 L558,339 L554.5,342.6 L499.5,342.6 L496,339 L496,320 Z" fill="#fff" stroke="#1d1d1b" stroke-width="3.40" stroke-linejoin="round" stroke-linecap="round" />
<path d="M497,319.4 L557,319.4 M497,340 L557,340" fill="none" stroke="#1d1d1b" stroke-width="1.10" stroke-linejoin="round" stroke-linecap="round" />
<path d="M499.2,319.4 L499.2,340 M504.6,319.4 L504.6,340 M517.4,319.4 L517.4,340 M519.8,319.4 L519.8,340 M533.2,319.4 L533.2,340 M535.6,319.4 L535.6,340 M548.8,319.4 L548.8,340 M555,319.4 L555,340" fill="none" stroke="#1d1d1b" stroke-width="1.10" stroke-linejoin="round" stroke-linecap="round" />
<line x1="491.0" y1="273.8" x2="662.5" y2="273.8" stroke="#1d1d1b" stroke-width="1.90" stroke-dasharray="11.4 4.9"/>
<line x1="569.5" y1="318.7" x2="662.5" y2="318.7" stroke="#1d1d1b" stroke-width="1.90" stroke-dasharray="11.4 4.9"/>
<!-- ptrap -->
<path d="M506.4,343 L506.4,483" fill="none" stroke="#1d1d1b" stroke-width="3.80" stroke-linejoin="round" stroke-linecap="butt"/>
<path d="M506.4,507 L506.4,558.5 A75.8,75.8 0 0 0 658.0,558.5 L658.0,554" fill="none" stroke="#1d1d1b" stroke-width="3.80" stroke-linejoin="round" stroke-linecap="butt"/>
<path d="M549.0,343 L549.0,558.5 A33.2,33.2 0 0 0 615.4,558.5 L615.4,554" fill="none" stroke="#1d1d1b" stroke-width="3.80" stroke-linejoin="round" stroke-linecap="butt"/>
<path d="M614.3,529 L614.3,512.0 A72.7,72.7 0 0 1 687.0,439.4 L729.5,439.4" fill="none" stroke="#1d1d1b" stroke-width="3.80" stroke-linejoin="round" stroke-linecap="butt"/>
<path d="M657.3,529 L657.3,512.0 A29.7,29.7 0 0 1 687.0,482.4 L729.5,482.4" fill="none" stroke="#1d1d1b" stroke-width="3.80" stroke-linejoin="round" stroke-linecap="butt"/>
<path d="M729.3,419.5 L729.3,452 L715,457.4 L744.6,462 L729.3,466 L729.3,506.5" fill="none" stroke="#1d1d1b" stroke-width="2.30" stroke-linejoin="miter" stroke-linecap="butt"/>
<path d="M611.5,527.4 L663,527.4 L665,530 L609.5,530 Z" fill="#fff" stroke="#1d1d1b" stroke-width="1.60" stroke-linejoin="round" stroke-linecap="round" />
<path d="M609.8,530.4 L664.5,530.4 Q668.3,530.4 668.3,533.5 L668.3,550.5 Q668.3,554.3 664.5,554.3 L609.8,554.3 Q605.8,554.3 605.8,550.5 L605.8,533.5 Q605.8,530.4 609.8,530.4 Z" fill="#fff" stroke="#1d1d1b" stroke-width="3.20" stroke-linejoin="round" stroke-linecap="round" />
<path d="M607,532.4 L667,532.4" fill="none" stroke="#1d1d1b" stroke-width="1.00" stroke-linejoin="round" stroke-linecap="round" />
<path d="M608.2,531.6 L608.2,553 M664.4,531.6 L664.4,553 M666,531.6 L666,553" fill="none" stroke="#1d1d1b" stroke-width="1.10" stroke-linejoin="round" stroke-linecap="round" />
<path d="M610.6,531.6 L610.6,553" stroke="#888" stroke-width="1.2" fill="none"/>
<path d="M615,531.6 L615,543.6 L655.4,543.6 L655.4,531.6" fill="none" stroke="#1d1d1b" stroke-width="1.20" stroke-linejoin="round" stroke-linecap="round" />
<path d="M619.8,531.6 L619.8,553 M622,531.6 L622,553 M636.2,531.6 L636.2,553 M638.5,531.6 L638.5,553 M652.2,531.6 L652.2,553 M654.4,531.6 L654.4,553" fill="none" stroke="#1d1d1b" stroke-width="1.10" stroke-linejoin="round" stroke-linecap="round" />
<line x1="527.0" y1="343.0" x2="527.0" y2="541.5" stroke="#1d1d1b" stroke-width="1.90" stroke-dasharray="10.6 5"/>
<!-- dims -->
<line x1="212.0" y1="125.0" x2="212.0" y2="230.0" stroke="#1d1d1b" stroke-width="2.00" />
<line x1="212.0" y1="267.0" x2="212.0" y2="425.0" stroke="#1d1d1b" stroke-width="2.00" />
<polygon points="212.0,108.0 202.0,132.0 212.0,127.0 222.0,132.0" fill="#1d1d1b"/>
<polygon points="212.0,441.6 202.0,417.6 212.0,422.6 222.0,417.6" fill="#1d1d1b"/>
<line x1="178.4" y1="449.6" x2="288.0" y2="449.6" stroke="#1d1d1b" stroke-width="2.10" stroke-dasharray="11.4 4.9"/>
<g filter="url(#nf)"><text x="160.3" y="257.6" font-size="28" textLength="101.6" lengthAdjust="spacingAndGlyphs" stroke="#1d1d1b" stroke-width="0.5">31.2 cm</text></g>
<line x1="593.6" y1="118.0" x2="593.6" y2="177.0" stroke="#1d1d1b" stroke-width="2.00" />
<line x1="593.6" y1="213.5" x2="593.6" y2="250.0" stroke="#1d1d1b" stroke-width="2.00" />
<polygon points="593.6,101.5 583.9,123.5 593.6,119.0 603.4,123.5" fill="#1d1d1b"/>
<polygon points="593.6,268.5 583.9,246.5 593.6,251.0 603.4,246.5" fill="#1d1d1b"/>
<g filter="url(#nf)"><text x="540.0" y="204.2" font-size="28" textLength="101.6" lengthAdjust="spacingAndGlyphs" stroke="#1d1d1b" stroke-width="0.5">15.2 cm</text></g>
<g filter="url(#nf)"><text x="642.2" y="212.4" font-size="37" textLength="14.0" lengthAdjust="spacingAndGlyphs" stroke="#1d1d1b" stroke-width="0.3">*</text></g>
<line x1="640.6" y1="236.0" x2="640.6" y2="254.0" stroke="#1d1d1b" stroke-width="2.00" />
<polygon points="640.6,269.8 631.8,249.8 640.6,253.8 649.4,249.8" fill="#1d1d1b"/>
<line x1="640.6" y1="340.0" x2="640.6" y2="359.4" stroke="#1d1d1b" stroke-width="2.00" />
<polygon points="640.6,323.5 631.8,343.5 640.6,339.5 649.4,343.5" fill="#1d1d1b"/>
<g filter="url(#nf)"><text x="587.5" y="387.2" font-size="28" textLength="91.4" lengthAdjust="spacingAndGlyphs" stroke="#1d1d1b" stroke-width="0.5">5.5 cm</text></g>
<g filter="url(#nf)"><text x="678.8" y="395.4" font-size="37" textLength="28.2" lengthAdjust="spacingAndGlyphs" stroke="#1d1d1b" stroke-width="0.3">**</text></g>
<line x1="761.6" y1="122.0" x2="761.6" y2="220.0" stroke="#1d1d1b" stroke-width="2.00" />
<line x1="761.6" y1="253.6" x2="761.6" y2="420.0" stroke="#1d1d1b" stroke-width="2.00" />
<polygon points="761.6,104.4 751.6,128.4 761.6,123.4 771.6,128.4" fill="#1d1d1b"/>
<polygon points="761.6,438.4 751.6,414.4 761.6,419.4 771.6,414.4" fill="#1d1d1b"/>
<line x1="734.0" y1="101.7" x2="827.0" y2="101.7" stroke="#1d1d1b" stroke-width="1.90" stroke-dasharray="11.4 4.9"/>
<line x1="734.8" y1="441.0" x2="827.0" y2="441.0" stroke="#1d1d1b" stroke-width="1.90" stroke-dasharray="11.4 4.9"/>
<g filter="url(#nf)"><text x="697.8" y="245.6" font-size="28" textLength="83.6" lengthAdjust="spacingAndGlyphs" stroke="#1d1d1b" stroke-width="0.5">30 cm</text></g>
<g filter="url(#nf)"><text x="782.0" y="253.8" font-size="37" textLength="43.3" lengthAdjust="spacingAndGlyphs" stroke="#1d1d1b" stroke-width="0.3">***</text></g>
<line x1="379.0" y1="465.0" x2="379.0" y2="542.0" stroke="#1d1d1b" stroke-width="1.90" stroke-dasharray="10 5"/>
<line x1="398.0" y1="494.4" x2="507.0" y2="494.4" stroke="#1d1d1b" stroke-width="2.00" />
<polygon points="381.0,494.4 406.0,484.9 400.0,494.4 406.0,503.9" fill="#1d1d1b"/>
<polygon points="524.0,494.4 499.0,484.9 505.0,494.4 499.0,503.9" fill="#1d1d1b"/>
<g filter="url(#nf)"><text x="390.8" y="528.4" font-size="28" textLength="104.2" lengthAdjust="spacingAndGlyphs" stroke="#1d1d1b" stroke-width="0.5">14.6 cm</text></g>
<line x1="189.6" y1="662.0" x2="400.0" y2="662.0" stroke="#1d1d1b" stroke-width="2.00" stroke-dasharray="11.4 4.9"/>
<line x1="183.0" y1="945.6" x2="406.0" y2="945.6" stroke="#1d1d1b" stroke-width="2.00" stroke-dasharray="11.4 4.9"/>
<line x1="221.6" y1="683.0" x2="221.6" y2="784.0" stroke="#1d1d1b" stroke-width="2.00" />
<line x1="221.6" y1="812.5" x2="221.6" y2="920.0" stroke="#1d1d1b" stroke-width="2.00" />
<polygon points="221.6,665.5 211.6,689.5 221.6,684.5 231.6,689.5" fill="#1d1d1b"/>
<polygon points="221.6,938.0 211.6,914.0 221.6,919.0 231.6,914.0" fill="#1d1d1b"/>
<g filter="url(#nf)"><text x="163.8" y="805.0" font-size="28" textLength="109.1" lengthAdjust="spacingAndGlyphs" stroke="#1d1d1b" stroke-width="0.5">20.9 cm</text></g>
</svg>
</body></html>
